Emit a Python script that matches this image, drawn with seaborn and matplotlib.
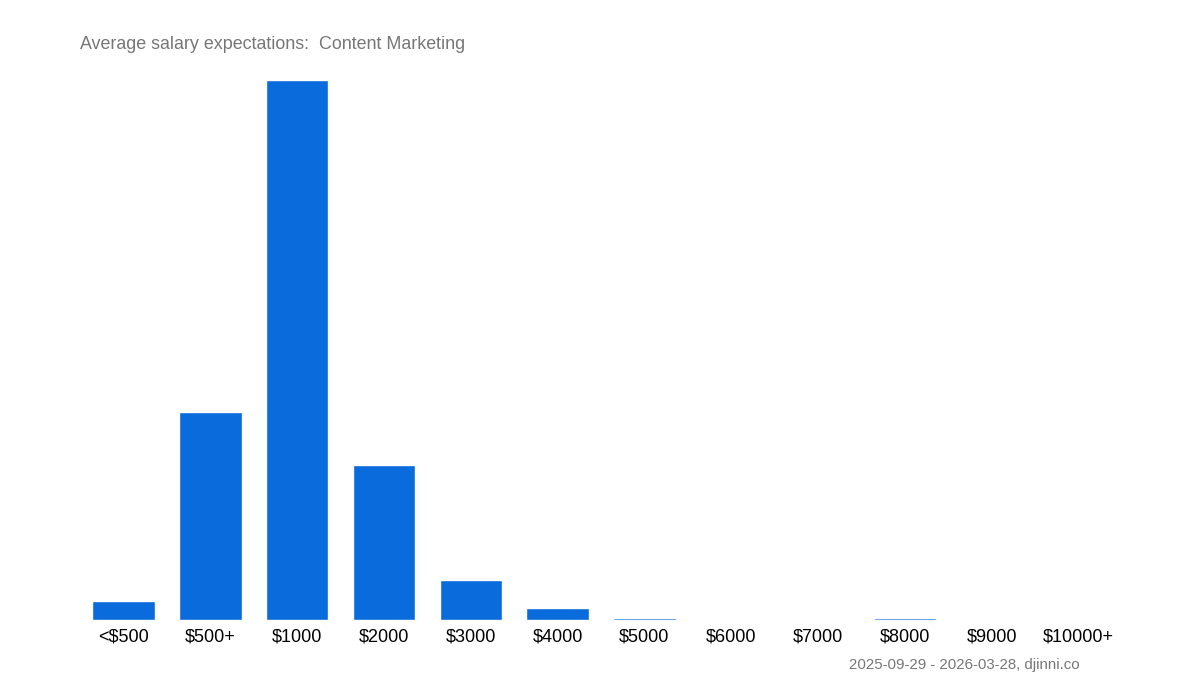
import matplotlib
matplotlib.use('Agg')
import matplotlib.pyplot as plt
import seaborn as sns
import pandas as pd

categories = ['<$500', '$500+', '$1000', '$2000', '$3000', '$4000',
              '$5000', '$6000', '$7000', '$8000', '$9000', '$10000+']
counts = [19, 208, 540, 155, 40, 12, 1.5, 0, 0, 1.5, 0, 0]

df = pd.DataFrame({'salary': categories, 'count': counts})

sns.set_style('white')
plt.rcParams['font.family'] = ['Liberation Sans', 'DejaVu Sans']

fig = plt.figure(figsize=(12, 7), dpi=100)
ax = fig.add_axes([0.0667, 0.1143, 0.8683, 0.7714])

sns.barplot(data=df, x='salary', y='count', color='#0a6bdc', saturation=1,
            width=0.72, ax=ax)

ax.set_ylim(0, max(counts))
ax.set_xlim(-0.5, len(categories) - 0.5)
ax.set_xlabel('')
ax.set_ylabel('')
ax.set_yticks([])
ax.tick_params(axis='x', length=0, labelsize=13, colors='black', pad=6)
sns.despine(ax=ax, left=True, bottom=True, top=True, right=True)

fig.text(0.0667, 0.93, 'Average salary expectations:  Content Marketing',
         fontsize=12.9, color='#777777', ha='left', va='baseline')
fig.text(0.9, 0.044, '2025-09-29 - 2026-03-28, djinni.co',
         fontsize=10.8, color='#777777', ha='right', va='baseline')

fig.savefig('out.png', dpi=100)
